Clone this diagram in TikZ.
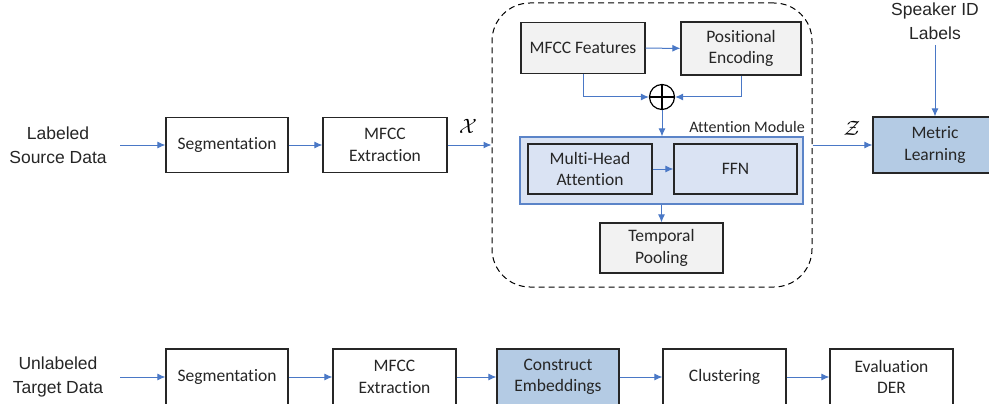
\documentclass[tikz,border=0pt]{standalone}
\usepackage{fontspec}
\setmainfont{Carlito}[Ligatures=NoCommon]
\newfontfamily\arialf{Liberation Sans}
\usetikzlibrary{arrows.meta,positioning}
\definecolor{arrblue}{HTML}{4A78C6}
\definecolor{modfill}{HTML}{DAE3F3}
\definecolor{modline}{HTML}{5B84C8}
\definecolor{hifill}{HTML}{B4CBE4}
\definecolor{grayfill}{HTML}{F2F2F2}
\definecolor{boxline}{HTML}{262626}
\tikzset{
  boxtext/.style={font=\fontsize{17.5}{21.5}\selectfont, align=center, text=black!85},
  wbox/.style={boxtext, draw=boxline, line width=1.2pt, fill=white, inner sep=0pt},
  gbox/.style={wbox, fill=grayfill},
  bbox/.style={wbox, fill=hifill},
  sidetext/.style={font=\arialf\fontsize{17.5}{24}\selectfont, align=center, text=black!85},
  arr/.style={draw=arrblue, line width=1pt, -{Latex[length=8pt,width=7pt]}},
  mathlbl/.style={font=\fontsize{22}{24}\selectfont, inner sep=0pt}
}
\begin{document}
\begin{tikzpicture}[x=1pt,y=-1pt]
\useasboundingbox (0,0) rectangle (989,404);
\clip (0,0) rectangle (989,404);
% top row
\node[sidetext] (lsrc) at (58,145) {Labeled\\Source Data};
\node[wbox, minimum width=122pt, minimum height=55pt] (seg1) at (227,145) {Segmentation};
\node[wbox, minimum width=124pt, minimum height=55pt] (mfcc1) at (385,145) {MFCC\\Extraction};
\node[draw, dashed, dash pattern=on 6pt off 4pt, line width=1pt, rounded corners=38pt, minimum width=320pt, minimum height=284pt, inner sep=0pt] (enc) at (652,145) {};
\node[gbox, minimum width=124pt, minimum height=51pt] (feat) at (583,48) {MFCC Features};
\node[gbox, minimum width=120pt, minimum height=53pt] (pe) at (741,48.5) {Positional\\Encoding};
\node[circle, draw=black, line width=1.2pt, minimum size=25pt, inner sep=0pt,
  path picture={\draw[line width=1.2pt] (path picture bounding box.north) -- (path picture bounding box.south) (path picture bounding box.west) -- (path picture bounding box.east);}] (plus) at (662,97) {};
\node[draw=modline, line width=1.2pt, fill=modfill, minimum width=283pt, minimum height=67pt, inner sep=0pt] (attn) at (661.5,170.5) {};
\node[font=\fontsize{16}{18}\selectfont, text=black!85, anchor=south east, inner sep=0pt] (attnlbl) at (805,133) {Attention Module};
\node[boxtext, draw=boxline, line width=1.2pt, fill=modfill, inner sep=0pt, minimum width=124pt, minimum height=50pt] (mha) at (590,169) {Multi-Head\\Attention};
\node[boxtext, draw=boxline, line width=1.2pt, fill=modfill, inner sep=0pt, minimum width=123pt, minimum height=50pt] (ffn) at (735.5,169) {FFN};
\node[gbox, minimum width=123pt, minimum height=50pt] (tp) at (661.5,248) {Temporal\\Pooling};
\node[bbox, minimum width=124pt, minimum height=56pt] (ml) at (935,145) {Metric\\Learning};
\node[sidetext] (spk) at (935,21) {Speaker ID\\Labels};
\node[mathlbl] (xl) at (468,126) {$\mathcal{X}$};
\node[mathlbl] (zl) at (852,128) {$\mathcal{Z}$};
\coordinate (srcend) at (120,145);
\draw[arr] (srcend) -- (seg1.west);
\draw[arr] (seg1) -- (mfcc1);
\draw[arr] (mfcc1.east) -- (enc.west);
\draw[arr] (feat) -- (pe);
\draw[arr] (feat.south) |- (plus.west);
\draw[arr] (pe.south) |- (plus.east);
\draw[arr] (plus.south) -- (plus.south |- attn.north);
\draw[arr] (mha) -- (ffn);
\draw[arr] (attn.south -| tp.north) -- (tp.north);
\draw[arr] (enc.east) -- (ml.west);
\draw[arr] ([yshift=-2pt]spk.south) -- (ml.north);
% bottom row
\node[sidetext] (utgt) at (58,377) {Unlabeled\\Target Data};
\node[wbox, minimum width=122pt, minimum height=56pt] (seg2) at (227,377) {Segmentation};
\node[wbox, minimum width=123pt, minimum height=56pt] (mfcc2) at (394.5,377) {MFCC\\Extraction};
\node[bbox, minimum width=122pt, minimum height=56pt] (cemb) at (558,377) {Construct\\Embeddings};
\node[wbox, minimum width=123pt, minimum height=56pt] (clus) at (724.5,377) {Clustering};
\node[wbox, minimum width=123pt, minimum height=56pt] (eval) at (891.5,377) {Evaluation\\DER};
\coordinate (tgtend) at (120,377);
\draw[arr] (tgtend) -- (seg2.west);
\draw[arr] (seg2) -- (mfcc2);
\draw[arr] (mfcc2) -- (cemb);
\draw[arr] (cemb) -- (clus);
\draw[arr] (clus) -- (eval);
\end{tikzpicture}
\end{document}
